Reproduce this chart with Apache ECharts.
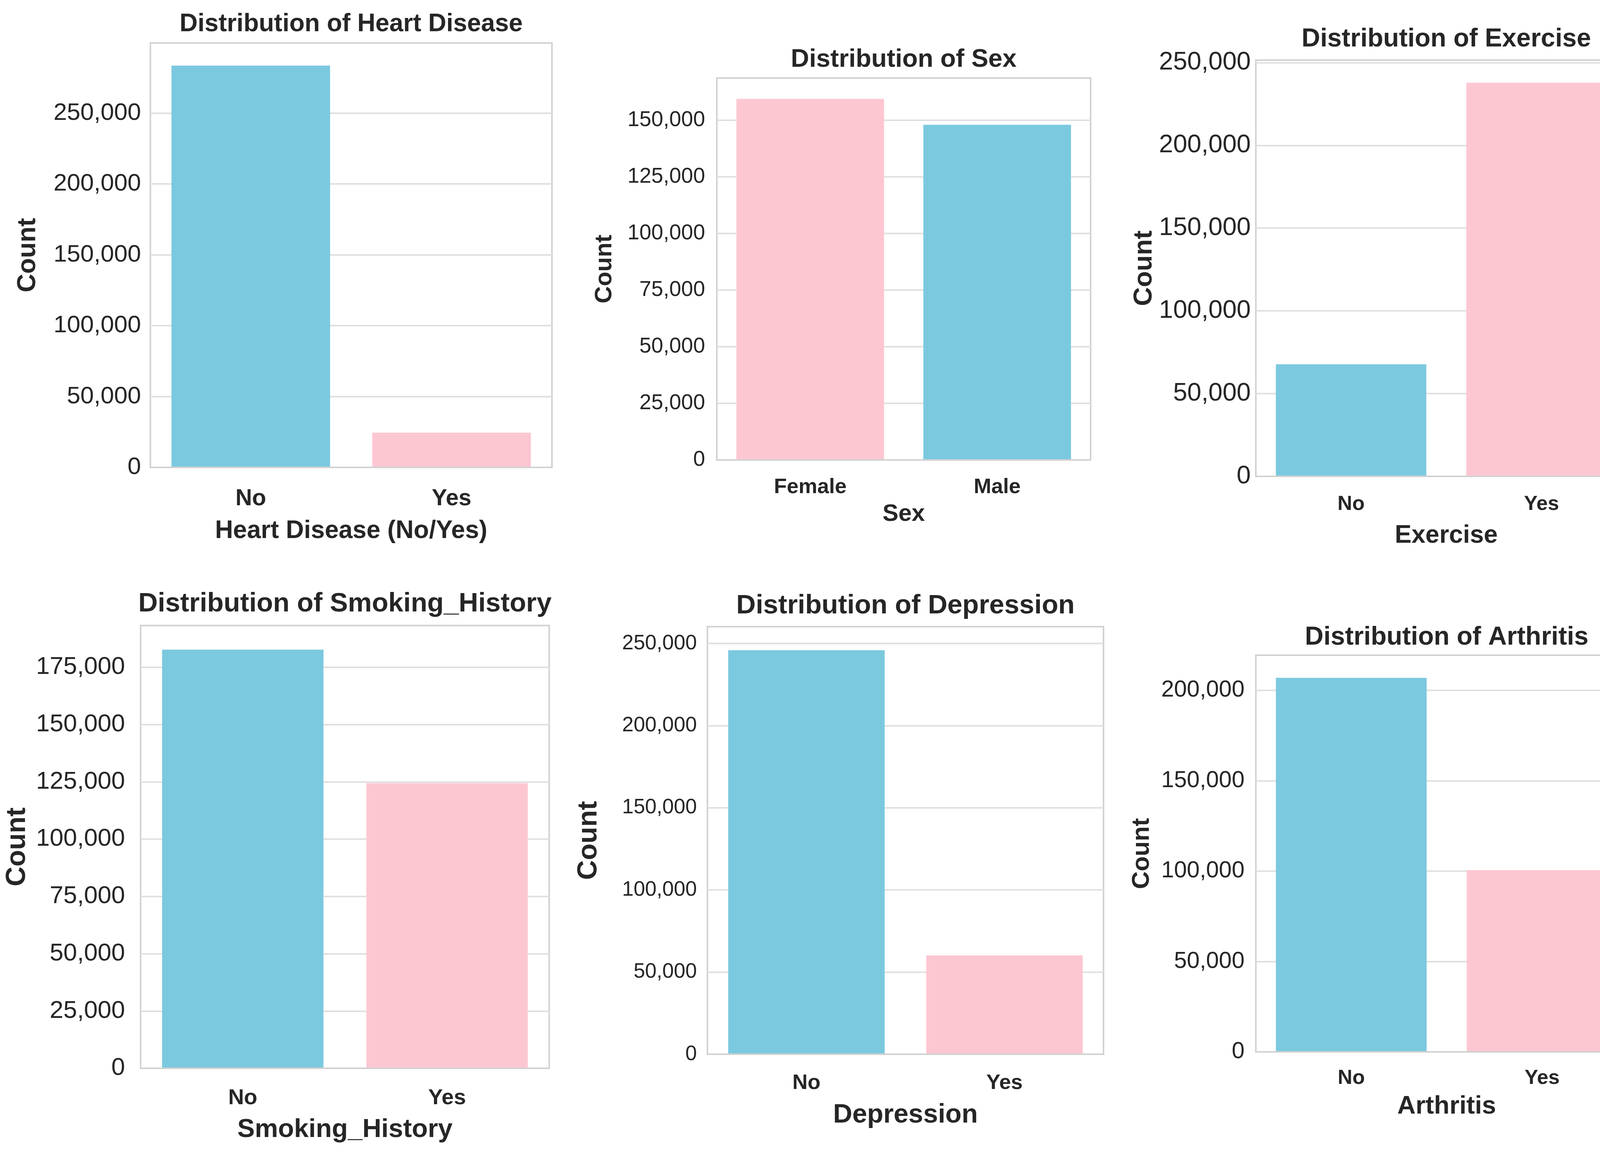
<!DOCTYPE html>
<html>
<head>
<meta charset="utf-8">
<title>Distributions</title>
<script src="https://cdn.jsdelivr.net/npm/echarts@6/dist/echarts.min.js"></script>
<style>
  html, body { margin: 0; background: #fff; }
  #chart { width: 4211px; height: 2976px; }
</style>
</head>
<body>
<div id="chart"></div>
<script>
// Counts
const heartCats = ['No', 'Yes'];
const heartCounts = [283500, 24500];

const sexCats = ['Female', 'Male'];
const sexCounts = [159400, 148000];

const exerciseCats = ['No', 'Yes'];
const exerciseCounts = [67700, 237900];

const smokingCats = ['No', 'Yes'];
const smokingCounts = [182700, 124400];

const depressionCats = ['No', 'Yes'];
const depressionCounts = [245900, 60200];

const arthritisCats = ['No', 'Yes'];
const arthritisCounts = [206900, 100500];

const FONT = '"Liberation Sans", Arial, sans-serif';
const TEXT = '#262626';
const BLUE = '#7bc9df';
const PINK = '#fdc7d2';
const FRAME = '#d2d2d2';
const GRIDLINE = '#e0e0e0';

// box = [left, top, right, bottom] of each plot frame
const panels = [
    { title: 'Distribution of Heart Disease', xName: 'Heart Disease (No/Yes)', cats: heartCats, counts: heartCounts,
      colors: [BLUE, PINK], max: 299500, interval: 50000, box: [385, 110, 1413, 1197],
      titleY: 62, titleSize: 64, tickSize: 62, tickMargin: 24, catSize: 59, catMargin: 51,
      nameSize: 64, nameGap: 131, countSize: 66, countGap: 280 },
    { title: 'Distribution of Sex', xName: 'Sex', cats: sexCats, counts: sexCounts,
      colors: [PINK, BLUE], max: 168600, interval: 25000, box: [1835, 200, 2792, 1178],
      titleY: 153, titleSize: 65, tickSize: 55, tickMargin: 30, catSize: 54, catMargin: 43,
      nameSize: 61, nameGap: 109, countSize: 61, countGap: 256 },
    { title: 'Distribution of Exercise', xName: 'Exercise', cats: exerciseCats, counts: exerciseCounts,
      colors: [BLUE, PINK], max: 251500, interval: 50000, box: [3215, 154, 4190, 1220],
      titleY: 101, titleSize: 66, tickSize: 65, tickMargin: 13, catSize: 52, catMargin: 46,
      nameSize: 64, nameGap: 120, countSize: 67, countGap: 252 },
    { title: 'Distribution of Smoking_History', xName: 'Smoking_History', cats: smokingCats, counts: smokingCounts,
      colors: [BLUE, PINK], max: 193200, interval: 25000, box: [360, 1602, 1406, 2736],
      titleY: 1547, titleSize: 69, tickSize: 63, tickMargin: 40, catSize: 56, catMargin: 49,
      nameSize: 67, nameGap: 124, countSize: 70, countGap: 280 },
    { title: 'Distribution of Depression', xName: 'Depression', cats: depressionCats, counts: depressionCounts,
      colors: [BLUE, PINK], max: 260200, interval: 50000, box: [1811, 1605, 2825, 2700],
      titleY: 1552, titleSize: 69, tickSize: 53, tickMargin: 27, catSize: 54, catMargin: 47,
      nameSize: 68, nameGap: 122, countSize: 70, countGap: 268 },
    { title: 'Distribution of Arthritis', xName: 'Arthritis', cats: arthritisCats, counts: arthritisCounts,
      colors: [BLUE, PINK], max: 219400, interval: 50000, box: [3215, 1678, 4192, 2694],
      titleY: 1633, titleSize: 66, tickSize: 59, tickMargin: 29, catSize: 52, catMargin: 42,
      nameSize: 65, nameGap: 108, countSize: 63, countGap: 260 }
];

const titles = [], grids = [], xAxes = [], yAxes = [], series = [];

panels.forEach(function (p, i) {
    const [l, t, r, b] = p.box;
    grids.push({
        left: l, top: t, width: r - l, height: b - t,
        show: true, borderColor: FRAME, borderWidth: 4, backgroundColor: '#fff'
    });
    titles.push({
        text: p.title, left: (l + r) / 2, top: p.titleY, padding: 0,
        textAlign: 'center', textVerticalAlign: 'middle',
        textStyle: { fontFamily: FONT, fontSize: p.titleSize, fontWeight: 'bold', color: TEXT }
    });
    xAxes.push({
        gridIndex: i, type: 'category', data: p.cats, z: 5,
        axisLine: { show: true, lineStyle: { color: FRAME, width: 4 } },
        axisTick: { show: false },
        splitLine: { show: false },
        axisLabel: { fontFamily: FONT, fontSize: p.catSize, fontWeight: 'bold', color: TEXT, margin: p.catMargin },
        name: p.xName, nameLocation: 'middle', nameGap: p.nameGap,
        nameTextStyle: { fontFamily: FONT, fontSize: p.nameSize, fontWeight: 'bold', color: TEXT }
    });
    yAxes.push({
        gridIndex: i, type: 'value', min: 0, max: p.max, interval: p.interval,
        axisLine: { show: false },
        axisTick: { show: false },
        splitLine: { show: true, showMinLine: false, showMaxLine: false, lineStyle: { color: GRIDLINE, width: 4 } },
        axisLabel: {
            showMaxLabel: false, fontFamily: FONT, fontSize: p.tickSize, color: TEXT, margin: p.tickMargin,
            formatter: function (v) { return v.toLocaleString('en-US'); }
        },
        name: 'Count', nameLocation: 'middle', nameGap: p.countGap, nameRotate: 90,
        nameTextStyle: { fontFamily: FONT, fontSize: p.countSize, fontWeight: 'bold', color: TEXT }
    });
    // white halo behind each bar so gridlines stop short of it (seaborn edge look)
    series.push({
        type: 'bar', xAxisIndex: i, yAxisIndex: i, barCategoryGap: '21%', barGap: '-100%', silent: true,
        itemStyle: { color: '#fff', borderColor: '#fff', borderWidth: 16 },
        data: p.counts
    });
    series.push({
        type: 'bar', xAxisIndex: i, yAxisIndex: i, barCategoryGap: '21%', barGap: '-100%', silent: true,
        data: p.counts.map(function (v, k) {
            return { value: v, itemStyle: { color: p.colors[k] } };
        })
    });
});

const chart = echarts.init(document.getElementById('chart'));
chart.setOption({
    animation: false,
    backgroundColor: '#fff',
    title: titles,
    grid: grids,
    xAxis: xAxes,
    yAxis: yAxes,
    series: series
});
</script>
</body>
</html>
